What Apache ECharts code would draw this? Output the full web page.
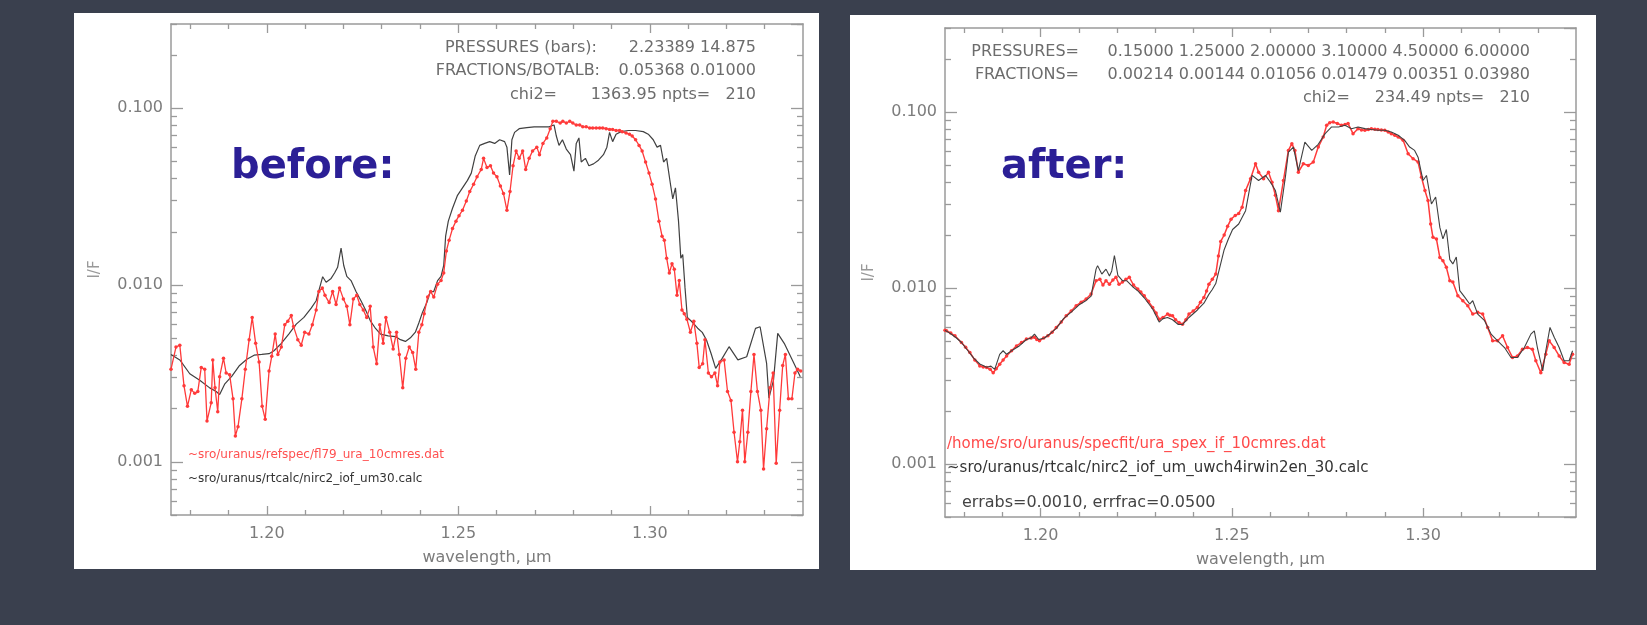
<!DOCTYPE html>
<html>
<head>
<meta charset="utf-8">
<title>Uranus I/F fit: before / after</title>
<script src="https://cdn.jsdelivr.net/npm/echarts@6.0.0/dist/echarts.min.js"></script>
<style>
  html, body { margin: 0; padding: 0; background: #3a404e; }
  #chart { width: 1647px; height: 625px; }
</style>
</head>
<body>
<div id="chart"></div>
<script>
// tick positions
const majorWl = [1.20, 1.25, 1.30];
const minorWl = [1.18, 1.19, 1.21, 1.22, 1.23, 1.24, 1.26, 1.27, 1.28, 1.29, 1.31, 1.32, 1.33];
const majorIF = [0.001, 0.01, 0.1];
const minorIF = [0.0005, 0.0006, 0.0007, 0.0008, 0.0009,
  0.002, 0.003, 0.004, 0.005, 0.006, 0.007, 0.008, 0.009,
  0.02, 0.03, 0.04, 0.05, 0.06, 0.07, 0.08, 0.09, 0.2, 0.3];

// "before" panel: measured spectrum (red) and model (black)
const redBeforeWl = [1.1750,1.1763,1.1773,1.1784,1.1793,1.1803,1.1812,1.1820,1.1829,1.1838,
  1.1844,1.1855,1.1859,1.1865,1.1872,1.1877,1.1887,1.1894,1.1903,1.1912,
  1.1918,1.1925,1.1935,1.1944,1.1954,1.1962,1.1971,1.1980,1.1988,1.1996,
  1.2006,1.2013,1.2022,1.2029,1.2038,1.2047,1.2055,1.2064,1.2070,1.2081,
  1.2090,1.2099,1.2110,1.2119,1.2129,1.2136,1.2145,1.2152,1.2163,1.2172,
  1.2181,1.2190,1.2200,1.2209,1.2217,1.2226,1.2235,1.2243,1.2252,1.2261,
  1.2270,1.2278,1.2287,1.2295,1.2304,1.2311,1.2321,1.2330,1.2339,1.2346,
  1.2355,1.2363,1.2372,1.2381,1.2389,1.2397,1.2405,1.2411,1.2420,1.2428,
  1.2436,1.2446,1.2455,1.2462,1.2469,1.2476,1.2485,1.2494,1.2502,1.2511,
  1.2521,1.2530,1.2540,1.2549,1.2560,1.2566,1.2575,1.2584,1.2592,1.2601,
  1.2610,1.2618,1.2627,1.2635,1.2643,1.2651,1.2659,1.2668,1.2676,1.2685,
  1.2694,1.2705,1.2712,1.2721,1.2731,1.2740,1.2747,1.2756,1.2766,1.2773,
  1.2782,1.2791,1.2799,1.2808,1.2817,1.2825,1.2834,1.2843,1.2851,1.2860,
  1.2869,1.2877,1.2886,1.2895,1.2903,1.2912,1.2921,1.2928,1.2938,1.2947,
  1.2954,1.2963,1.2972,1.2980,1.2989,1.2998,1.3006,1.3015,1.3024,1.3032,
  1.3038,1.3044,1.3051,1.3058,1.3064,1.3071,1.3077,1.3084,1.3090,1.3097,
  1.3106,1.3115,1.3123,1.3129,1.3138,1.3144,1.3153,1.3161,1.3170,1.3177,
  1.3183,1.3194,1.3203,1.3212,1.3220,1.3229,1.3235,1.3242,1.3248,1.3256,
  1.3264,1.3272,1.3281,1.3290,1.3297,1.3305,1.3314,1.3322,1.3330,1.3339,
  1.3347,1.3354,1.3362,1.3371,1.3379,1.3386,1.3394];
const redBefore = [0.00334,0.00446,0.00457,0.00269,0.00206,0.00256,0.00244,0.00250,0.00342,0.00334,
  0.00170,0.00216,0.00377,0.00262,0.00192,0.00303,0.00386,0.00318,0.00311,0.00227,
  0.00140,0.00158,0.00227,0.00334,0.00491,0.00656,0.00468,0.00367,0.00206,0.00174,
  0.00326,0.00395,0.00528,0.00405,0.00446,0.00596,0.00625,0.00672,0.00582,0.00491,
  0.00457,0.00541,0.00528,0.00596,0.00723,0.00919,0.00964,0.00875,0.00796,0.00919,
  0.00776,0.00964,0.00835,0.00758,0.00596,0.00835,0.00875,0.00776,0.00723,0.00656,
  0.00758,0.00446,0.00359,0.00596,0.00468,0.00656,0.00541,0.00435,0.00541,0.00405,
  0.00262,0.00386,0.00446,0.00415,0.00334,0.00541,0.00596,0.00689,0.00855,0.00919,
  0.00855,0.01012,0.0106,0.0117,0.0156,0.0179,0.0209,0.0230,0.0247,0.0265,
  0.0299,0.0338,0.0372,0.0410,0.0451,0.0521,0.0462,0.0473,0.0430,0.0410,
  0.0363,0.0330,0.0265,0.0338,0.0473,0.0574,0.0521,0.0574,0.0451,0.0521,
  0.0574,0.0603,0.0547,0.0633,0.0680,0.0767,0.0845,0.0845,0.0825,0.0845,
  0.0825,0.0845,0.0825,0.0805,0.0805,0.0786,0.0786,0.0774,0.0774,0.0774,
  0.0774,0.0774,0.0767,0.0760,0.0760,0.0749,0.0749,0.0738,0.0724,0.0714,
  0.0697,0.0664,0.0617,0.0574,0.0497,0.0430,0.0372,0.0307,0.0230,0.0189,
  0.0179,0.0142,0.0117,0.0132,0.0123,0.00875,0.0106,0.00723,0.00689,0.00640,
  0.00541,0.00625,0.00468,0.00342,0.00359,0.00491,0.00318,0.00303,0.00318,0.00269,
  0.00367,0.00377,0.00250,0.00222,0.00147,0.00100,0.00130,0.00196,0.00100,0.00147,
  0.00250,0.00405,0.00250,0.00196,0.00091,0.00154,0.00262,0.00318,0.00098,0.00196,
  0.00351,0.00405,0.00227,0.00227,0.00318,0.00334,0.00326];

const blackBeforeWl = [1.1750,1.1773,1.1799,1.1825,1.1851,1.1868,1.1877,1.1890,1.1909,1.1929,
  1.1948,1.1967,1.1987,1.2006,1.2019,1.2038,1.2058,1.2077,1.2097,1.2116,
  1.2129,1.2138,1.2146,1.2155,1.2168,1.2177,1.2185,1.2194,1.2201,1.2209,
  1.2220,1.2233,1.2246,1.2258,1.2271,1.2284,1.2297,1.2317,1.2336,1.2349,
  1.2362,1.2375,1.2388,1.2397,1.2407,1.2418,1.2427,1.2436,1.2446,1.2455,
  1.2462,1.2467,1.2474,1.2485,1.2498,1.2511,1.2524,1.2534,1.2544,1.2556,
  1.2569,1.2582,1.2595,1.2608,1.2621,1.2627,1.2634,1.2640,1.2647,1.2659,
  1.2679,1.2698,1.2718,1.2737,1.2750,1.2756,1.2763,1.2772,1.2782,1.2793,
  1.2802,1.2808,1.2815,1.2821,1.2832,1.2841,1.2853,1.2866,1.2879,1.2888,
  1.2895,1.2903,1.2912,1.2925,1.2944,1.2963,1.2983,1.2996,1.3009,1.3019,
  1.3028,1.3036,1.3044,1.3054,1.3060,1.3067,1.3075,1.3081,1.3086,1.3092,
  1.3098,1.3110,1.3125,1.3137,1.3148,1.3160,1.3172,1.3189,1.3207,1.3230,
  1.3253,1.3276,1.3288,1.3305,1.3311,1.3323,1.3334,1.3351,1.3374,1.3393];
const blackBefore = [0.00405,0.00377,0.00315,0.00289,0.00262,0.00250,0.00240,0.00275,0.00305,0.00351,
  0.00380,0.00401,0.00405,0.00409,0.00425,0.00468,0.00530,0.00601,0.00656,0.00740,
  0.00815,0.00964,0.01115,0.01037,0.0109,0.0117,0.0126,0.0162,0.0129,0.0112,
  0.0106,0.00919,0.00815,0.00723,0.00625,0.00568,0.00528,0.00516,0.00511,0.00491,
  0.00480,0.00503,0.00541,0.00610,0.00705,0.00796,0.00919,0.00919,0.0106,0.0112,
  0.0129,0.0189,0.0230,0.0272,0.0322,0.0355,0.0391,0.0430,0.0535,0.0617,
  0.0633,0.0648,0.0633,0.0664,0.0648,0.0603,0.0420,0.0664,0.0731,0.0767,
  0.0778,0.0786,0.0786,0.0786,0.0805,0.0697,0.0617,0.0664,0.0588,0.0547,
  0.0441,0.0633,0.0680,0.0497,0.0521,0.0473,0.0485,0.0509,0.0547,0.0603,
  0.0731,0.0648,0.0714,0.0738,0.0749,0.0749,0.0738,0.0714,0.0664,0.0603,
  0.0617,0.0497,0.0521,0.0372,0.0307,0.0355,0.0230,0.0142,0.0149,0.00964,
  0.00656,0.00620,0.00570,0.00540,0.00489,0.00410,0.00338,0.00385,0.00448,0.00377,
  0.00393,0.00569,0.00581,0.00360,0.00229,0.00290,0.00533,0.00468,0.00369,0.00303];

// "after" panel
const redAfterWl = [1.1750,1.1754,1.1765,1.1776,1.1793,1.1804,1.1815,1.1828,1.1841,1.1850,
  1.1859,1.1868,1.1876,1.1884,1.1893,1.1902,1.1911,1.1924,1.1937,1.1950,
  1.1963,1.1975,1.1984,1.1990,1.1997,1.2008,1.2019,1.2030,1.2041,1.2054,
  1.2067,1.2080,1.2093,1.2106,1.2119,1.2132,1.2145,1.2155,1.2163,1.2171,
  1.2180,1.2189,1.2197,1.2205,1.2214,1.2223,1.2232,1.2243,1.2254,1.2262,
  1.2271,1.2282,1.2293,1.2302,1.2310,1.2320,1.2332,1.2338,1.2345,1.2353,
  1.2362,1.2371,1.2380,1.2388,1.2399,1.2410,1.2418,1.2427,1.2434,1.2440,
  1.2449,1.2458,1.2465,1.2471,1.2480,1.2489,1.2498,1.2509,1.2518,1.2527,
  1.2536,1.2549,1.2562,1.2570,1.2583,1.2596,1.2605,1.2614,1.2622,1.2635,
  1.2648,1.2657,1.2665,1.2674,1.2687,1.2700,1.2713,1.2726,1.2739,1.2748,
  1.2756,1.2765,1.2776,1.2787,1.2796,1.2804,1.2817,1.2830,1.2839,1.2848,
  1.2857,1.2865,1.2874,1.2882,1.2891,1.2900,1.2909,1.2917,1.2926,1.2935,
  1.2948,1.2961,1.2974,1.2987,1.2996,1.3005,1.3013,1.3020,1.3026,1.3035,
  1.3044,1.3052,1.3061,1.3070,1.3078,1.3091,1.3104,1.3117,1.3130,1.3143,
  1.3156,1.3169,1.3182,1.3195,1.3208,1.3221,1.3234,1.3247,1.3260,1.3273,
  1.3286,1.3295,1.3308,1.3321,1.3330,1.3343,1.3356,1.3369,1.3382,1.3391];
const redAfter = [0.00575,0.00571,0.00555,0.00535,0.0049,0.0046,0.0043,0.0039,0.00361,0.00356,
  0.00353,0.00345,0.0033,0.00348,0.00369,0.0039,0.00411,0.0044,0.00469,0.0049,
  0.00513,0.0052,0.00525,0.0051,0.00501,0.0052,0.00535,0.0056,0.00597,0.0064,
  0.00695,0.0074,0.00793,0.0083,0.00865,0.00925,0.0110,0.0112,0.0104,0.0110,
  0.0105,0.0111,0.0115,0.0105,0.0108,0.0112,0.0115,0.0104,0.00987,0.0095,
  0.00904,0.0084,0.00776,0.0072,0.00665,0.0068,0.00711,0.0070,0.00695,0.0066,
  0.00637,0.00623,0.0066,0.00711,0.0074,0.00776,0.0083,0.00884,0.0096,0.0105,
  0.0112,0.0120,0.0152,0.0184,0.0200,0.0224,0.0246,0.0258,0.0265,0.0288,
  0.0358,0.0418,0.0508,0.0455,0.0418,0.0455,0.0399,0.0336,0.0275,0.0408,
  0.0605,0.0661,0.0605,0.0455,0.0508,0.0497,0.0519,0.0632,0.0721,0.0840,
  0.0870,0.0877,0.0860,0.0840,0.0850,0.0859,0.0753,0.0804,0.0790,0.0787,
  0.0795,0.0804,0.0798,0.0795,0.0790,0.0787,0.0770,0.0753,0.0737,0.0721,
  0.0690,0.0579,0.0543,0.0519,0.0426,0.0358,0.0314,0.0231,0.0194,0.0190,
  0.0149,0.0143,0.0131,0.0110,0.0108,0.00904,0.00847,0.00793,0.00711,0.00727,
  0.00711,0.00597,0.00501,0.00501,0.00535,0.00459,0.00403,0.00411,0.00449,0.00459,
  0.00449,0.00386,0.0033,0.00421,0.00501,0.00459,0.00411,0.00377,0.00369,0.00421];

const blackAfterWl = [1.1750,1.1765,1.1780,1.1793,1.1810,1.1825,1.1841,1.1859,1.1870,1.1880,
  1.1893,1.1902,1.1911,1.1924,1.1945,1.1963,1.1975,1.1984,1.1995,1.2010,
  1.2025,1.2041,1.2060,1.2080,1.2100,1.2119,1.2132,1.2145,1.2149,1.2160,
  1.2171,1.2180,1.2186,1.2193,1.2202,1.2214,1.2225,1.2240,1.2255,1.2271,
  1.2293,1.2310,1.2320,1.2332,1.2345,1.2360,1.2371,1.2388,1.2410,1.2427,
  1.2440,1.2449,1.2458,1.2470,1.2480,1.2491,1.2502,1.2518,1.2536,1.2553,
  1.2570,1.2588,1.2601,1.2614,1.2627,1.2640,1.2648,1.2661,1.2674,1.2691,
  1.2709,1.2726,1.2744,1.2761,1.2779,1.2796,1.2813,1.2830,1.2848,1.2865,
  1.2882,1.2900,1.2917,1.2935,1.2952,1.2965,1.2978,1.2987,1.3000,1.3009,
  1.3022,1.3033,1.3044,1.3052,1.3061,1.3070,1.3078,1.3087,1.3096,1.3109,
  1.3122,1.3130,1.3143,1.3161,1.3178,1.3195,1.3213,1.3230,1.3247,1.3265,
  1.3282,1.3291,1.3299,1.3313,1.3321,1.3332,1.3343,1.3356,1.3369,1.3382,
  1.3391];
const blackAfter = [0.00575,0.0055,0.0052,0.0049,0.0044,0.0040,0.0037,0.00355,0.0036,0.00345,
  0.0042,0.0044,0.0042,0.0044,0.0047,0.0051,0.0052,0.00547,0.0051,0.0052,
  0.0055,0.0059,0.0067,0.0073,0.0080,0.0085,0.0090,0.0128,0.0134,0.0120,
  0.0128,0.0117,0.0125,0.0153,0.0118,0.0110,0.0110,0.0102,0.0096,0.0088,
  0.0076,0.0064,0.0067,0.0068,0.0066,0.0062,0.0062,0.0068,0.0075,0.0082,
  0.0092,0.0098,0.0106,0.0135,0.0165,0.0190,0.0215,0.0231,0.0275,0.0436,
  0.0408,0.0436,0.0399,0.0358,0.0270,0.0426,0.0592,0.0632,0.0465,0.0675,
  0.0605,0.0655,0.0753,0.0822,0.0822,0.0840,0.0804,0.0822,0.0804,0.0795,
  0.0787,0.0787,0.0770,0.0737,0.0690,0.0632,0.0605,0.0554,0.0408,0.0436,
  0.0300,0.0329,0.0221,0.0190,0.0215,0.0145,0.0137,0.0150,0.00966,0.00887,
  0.00811,0.00847,0.00711,0.00652,0.00547,0.00501,0.00459,0.00403,0.00403,0.00459,
  0.00547,0.00571,0.00459,0.00338,0.0044,0.00597,0.00525,0.00459,0.00386,0.00386,
  0.0044];

const FONT = '"DejaVu Sans", sans-serif';
const AXIS_GREY = '#9a9a9a';
const LABEL_GREY = '#7c7c7c';
const TEXT_GREY = '#6c6c6c';
const RED = '#ff3a3a';
const INK = '#404040';

const zip = (xs, ys) => xs.map((x, i) => [x, ys[i]]);

function xAxesFor(g) {
  const base = {
    type: 'value', gridIndex: g, min: 1.175, max: 1.34,
    splitLine: { show: false },
    axisLine: { show: false, onZero: false },
    axisLabel: { show: false }
  };
  const line = { show: true, onZero: false, lineStyle: { color: AXIS_GREY, width: 1.5 } };
  const tickStyle = { color: AXIS_GREY, width: 1.3 };
  const ticks = (len, vals) => ({ show: true, inside: true, length: len, customValues: vals, lineStyle: tickStyle });
  return [
    Object.assign({}, base, {
      position: 'bottom', axisLine: line, axisTick: ticks(9, majorWl),
      axisLabel: {
        show: true, customValues: majorWl, margin: 11,
        formatter: v => v.toFixed(2), color: LABEL_GREY, fontSize: 16, fontFamily: FONT
      },
      name: 'wavelength, \u00b5m', nameLocation: 'middle', nameGap: 35,
      nameTextStyle: { color: LABEL_GREY, fontSize: 16, fontFamily: FONT }
    }),
    Object.assign({}, base, { position: 'bottom', axisTick: ticks(5, minorWl) }),
    Object.assign({}, base, { position: 'top', axisLine: line, axisTick: ticks(9, majorWl) }),
    Object.assign({}, base, { position: 'top', axisTick: ticks(5, minorWl) })
  ];
}

function yAxesFor(g) {
  const base = {
    type: 'log', logBase: 10, gridIndex: g, min: 0.0005, max: 0.3,
    splitLine: { show: false },
    axisLine: { show: false, onZero: false },
    axisLabel: { show: false }
  };
  const line = { show: true, onZero: false, lineStyle: { color: AXIS_GREY, width: 1.5 } };
  const tickStyle = { color: AXIS_GREY, width: 1.3 };
  return [
    Object.assign({}, base, {
      position: 'left', axisLine: line,
      axisTick: { show: true, inside: true, length: 12, lineStyle: tickStyle },
      axisLabel: {
        show: true, showMinLabel: false, showMaxLabel: false, margin: 8,
        formatter: v => v.toFixed(3), color: LABEL_GREY, fontSize: 16, fontFamily: FONT
      },
      name: 'I/F', nameLocation: 'middle', nameGap: 68,
      nameTextStyle: { color: '#999999', fontSize: 15, fontFamily: FONT }
    }),
    Object.assign({}, base, {
      position: 'left',
      axisTick: { show: true, inside: true, length: 6, customValues: minorIF, lineStyle: tickStyle }
    }),
    Object.assign({}, base, {
      position: 'right', axisLine: line,
      axisTick: { show: true, inside: true, length: 12, lineStyle: tickStyle }
    }),
    Object.assign({}, base, {
      position: 'right',
      axisTick: { show: true, inside: true, length: 6, customValues: minorIF, lineStyle: tickStyle }
    })
  ];
}

function label(x, y, text, opts) {
  return {
    type: 'text', x: x, y: y, z: 20, silent: true,
    style: Object.assign({
      text: text, fill: TEXT_GREY, font: '16px ' + FONT,
      align: 'right', textAlign: 'right', verticalAlign: 'middle', textVerticalAlign: 'middle'
    }, opts || {})
  };
}

const chart = echarts.init(document.getElementById('chart'));

chart.setOption({
  backgroundColor: '#3a404e',
  animation: false,
  grid: [
    { left: 171, top: 24, width: 632, height: 491 },
    { left: 945, top: 28, width: 631, height: 489 }
  ],
  xAxis: xAxesFor(0).concat(xAxesFor(1)),
  yAxis: yAxesFor(0).concat(yAxesFor(1)),
  series: [
    {
      type: 'line', xAxisIndex: 0, yAxisIndex: 0, data: zip(blackBeforeWl, blackBefore),
      showSymbol: false, lineStyle: { color: INK, width: 1.2 }, z: 3
    },
    {
      type: 'line', xAxisIndex: 0, yAxisIndex: 0, data: zip(redBeforeWl, redBefore),
      symbol: 'circle', symbolSize: 3.5, lineStyle: { color: RED, width: 1.3 },
      itemStyle: { color: RED }, z: 4
    },
    {
      type: 'line', xAxisIndex: 4, yAxisIndex: 4, data: zip(redAfterWl, redAfter),
      symbol: 'circle', symbolSize: 3.5, lineStyle: { color: RED, width: 1.5 },
      itemStyle: { color: RED }, z: 3
    },
    {
      type: 'line', xAxisIndex: 4, yAxisIndex: 4, data: zip(blackAfterWl, blackAfter),
      showSymbol: false, lineStyle: { color: INK, width: 1.1 }, z: 4
    }
  ],
  graphic: [
    { type: 'rect', z: -10, silent: true, shape: { x: 74, y: 13, width: 745, height: 556 }, style: { fill: '#ffffff' } },
    { type: 'rect', z: -10, silent: true, shape: { x: 850, y: 15, width: 746, height: 555 }, style: { fill: '#ffffff' } },

    // before panel annotations
    label(597, 48, 'PRESSURES (bars):'),
    label(756, 48, '2.23389 14.875'),
    label(600, 71, 'FRACTIONS/BOTALB:'),
    label(756, 71, '0.05368 0.01000'),
    label(557, 95, 'chi2='),
    label(756, 95, '1363.95 npts=   210'),
    label(188, 455, '~sro/uranus/refspec/fl79_ura_10cmres.dat',
      { fill: '#ff5050', font: '12px ' + FONT, align: 'left', textAlign: 'left' }),
    label(188, 479, '~sro/uranus/rtcalc/nirc2_iof_um30.calc',
      { fill: '#333333', font: '12px ' + FONT, align: 'left', textAlign: 'left' }),
    label(231, 168, 'before:',
      { fill: '#2b1f96', font: 'bold 40px ' + FONT, align: 'left', textAlign: 'left' }),

    // after panel annotations
    label(1079, 52, 'PRESSURES='),
    label(1530, 52, '0.15000 1.25000 2.00000 3.10000 4.50000 6.00000'),
    label(1079, 75, 'FRACTIONS='),
    label(1530, 75, '0.00214 0.00144 0.01056 0.01479 0.00351 0.03980'),
    label(1350, 98, 'chi2='),
    label(1530, 98, '234.49 npts=   210'),
    label(947, 444, '/home/sro/uranus/specfit/ura_spex_if_10cmres.dat',
      { fill: '#ff4a4a', font: '15px ' + FONT, align: 'left', textAlign: 'left' }),
    label(947, 468, '~sro/uranus/rtcalc/nirc2_iof_um_uwch4irwin2en_30.calc',
      { fill: '#333333', font: '15px ' + FONT, align: 'left', textAlign: 'left' }),
    label(962, 503, 'errabs=0.0010, errfrac=0.0500',
      { fill: '#444444', font: '16px ' + FONT, align: 'left', textAlign: 'left' }),
    label(1001, 168, 'after:',
      { fill: '#2b1f96', font: 'bold 40px ' + FONT, align: 'left', textAlign: 'left' })
  ]
});
</script>
</body>
</html>
